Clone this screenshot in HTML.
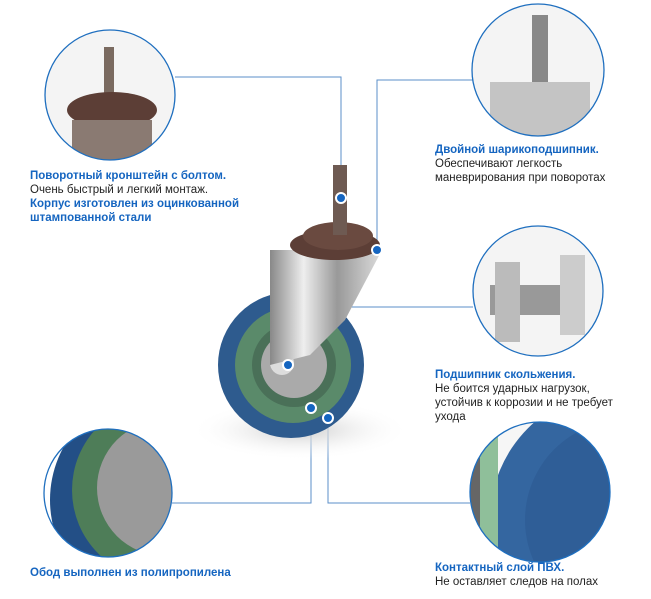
<!DOCTYPE html>
<html style="overflow:hidden"><head><meta charset="utf-8"><style>
html,body{margin:0;padding:0;overflow:hidden;width:651px;height:599px}
body{background:#fff;font-family:"Liberation Sans",sans-serif}
#w{position:relative;width:651px;height:599px;overflow:hidden}
svg{display:block;position:absolute;left:0;top:0}
.t{position:absolute;font-size:11.5px;line-height:14px;color:#222;white-space:nowrap}
.b{color:#1565c0;font-weight:bold}
</style></head><body><div id="w">
<svg width="651" height="599" viewBox="0 0 651 599">
<defs>
<radialGradient id="sh" cx="50%" cy="50%" r="50%"><stop offset="0" stop-color="#ccc"/><stop offset="1" stop-color="#fff" stop-opacity="0"/></radialGradient>
<linearGradient id="met" x1="0" x2="1"><stop offset="0" stop-color="#888"/><stop offset=".3" stop-color="#eee"/><stop offset=".6" stop-color="#999"/><stop offset="1" stop-color="#ddd"/></linearGradient>
<clipPath id="c1"><circle cx="110" cy="95" r="65"/></clipPath>
<clipPath id="c2"><circle cx="538" cy="70" r="66"/></clipPath>
<clipPath id="c3"><circle cx="538" cy="291" r="65"/></clipPath>
<clipPath id="c4"><circle cx="108" cy="493" r="64"/></clipPath>
<clipPath id="c5"><circle cx="540" cy="492" r="70"/></clipPath>
</defs>
<g fill="none" stroke="#5b8fc9" stroke-width="1">
<polyline points="175,77 341,77 341,198"/>
<polyline points="377,250 377,80 473,80"/>
<polyline points="288,365 288,307 473,307"/>
<polyline points="311,408 311,503 172,503"/>
<polyline points="328,418 328,503 470,503"/>
</g>
<ellipse cx="300" cy="430" rx="110" ry="30" fill="url(#sh)"/>
<circle cx="291" cy="365" r="73" fill="#2e5b8e"/>
<circle cx="293" cy="365" r="58" fill="#5a8a6a"/>
<circle cx="294" cy="365" r="42" fill="#4a7058"/>
<circle cx="294" cy="365" r="33" fill="#aaa"/>
<circle cx="282" cy="363" r="12" fill="#ddd"/>
<polygon points="270,250 382,250 345,320 310,355 270,365" fill="url(#met)"/>
<ellipse cx="335" cy="245" rx="45" ry="15" fill="#5c3e36"/>
<ellipse cx="338" cy="236" rx="35" ry="14" fill="#6a4a40"/>
<rect x="333" y="165" width="14" height="70" fill="#6e5a52"/>
<g clip-path="url(#c1)"><rect x="40" y="25" width="140" height="140" fill="#f4f4f4"/><rect x="104" y="47" width="10" height="50" fill="#7a6a60"/><ellipse cx="112" cy="110" rx="45" ry="18" fill="#5c3e36"/><rect x="72" y="120" width="80" height="45" fill="#8a7a72"/></g>
<circle cx="110" cy="95" r="65" fill="none" stroke="#1f6fbf" stroke-width="1.3"/>
<g clip-path="url(#c2)"><rect x="470" y="0" width="140" height="140" fill="#f4f4f4"/><rect x="532" y="15" width="16" height="70" fill="#888"/><rect x="490" y="82" width="100" height="55" fill="#c4c4c4"/></g>
<circle cx="538" cy="70" r="66" fill="none" stroke="#1f6fbf" stroke-width="1.3"/>
<g clip-path="url(#c3)"><rect x="470" y="224" width="140" height="134" fill="#f4f4f4"/><rect x="490" y="285" width="95" height="30" fill="#999"/><rect x="560" y="255" width="25" height="80" fill="#ccc"/><rect x="495" y="262" width="25" height="80" fill="#bbb"/></g>
<circle cx="538" cy="291" r="65" fill="none" stroke="#1f6fbf" stroke-width="1.3"/>
<g clip-path="url(#c4)"><rect x="42" y="428" width="132" height="130" fill="#fff"/><circle cx="160" cy="500" r="110" fill="#234f86"/><circle cx="162" cy="490" r="90" fill="#4e7d58"/><circle cx="165" cy="488" r="68" fill="#9a9a9a"/></g>
<circle cx="108" cy="493" r="64" fill="none" stroke="#1f6fbf" stroke-width="1.3"/>
<g clip-path="url(#c5)"><rect x="470" y="420" width="140" height="143" fill="#f6f6f6"/><circle cx="620" cy="520" r="130" fill="#3466a0"/><circle cx="625" cy="520" r="100" fill="#2f5e97"/><rect x="470" y="420" width="28" height="143" fill="#8fbf9a"/><rect x="470" y="440" width="10" height="100" fill="#666"/></g>
<circle cx="540" cy="492" r="70" fill="none" stroke="#1f6fbf" stroke-width="1.3"/>
<g fill="#1565c0" stroke="#fff" stroke-width="2">
<circle cx="341" cy="198" r="5"/><circle cx="377" cy="250" r="5"/><circle cx="288" cy="365" r="5"/><circle cx="311" cy="408" r="5"/><circle cx="328" cy="418" r="5"/>
</g>
</svg>
<div class="t" style="left:30px;top:169px"><span class="b">Поворотный кронштейн с болтом.</span><br>Очень быстрый и легкий монтаж.<br><span class="b">Корпус изготовлен из оцинкованной<br>штампованной стали</span></div>
<div class="t" style="left:435px;top:143px"><span class="b">Двойной шарикоподшипник.</span><br>Обеспечивают легкость<br>маневрирования при поворотах</div>
<div class="t" style="left:435px;top:368px"><span class="b">Подшипник скольжения.</span><br>Не боится ударных нагрузок,<br>устойчив к коррозии и не требует<br>ухода</div>
<div class="t" style="left:30px;top:566px"><span class="b">Обод выполнен из полипропилена</span></div>
<div class="t" style="left:435px;top:561px"><span class="b">Контактный слой ПВХ.</span><br>Не оставляет следов на полах</div>
</div></body></html>
